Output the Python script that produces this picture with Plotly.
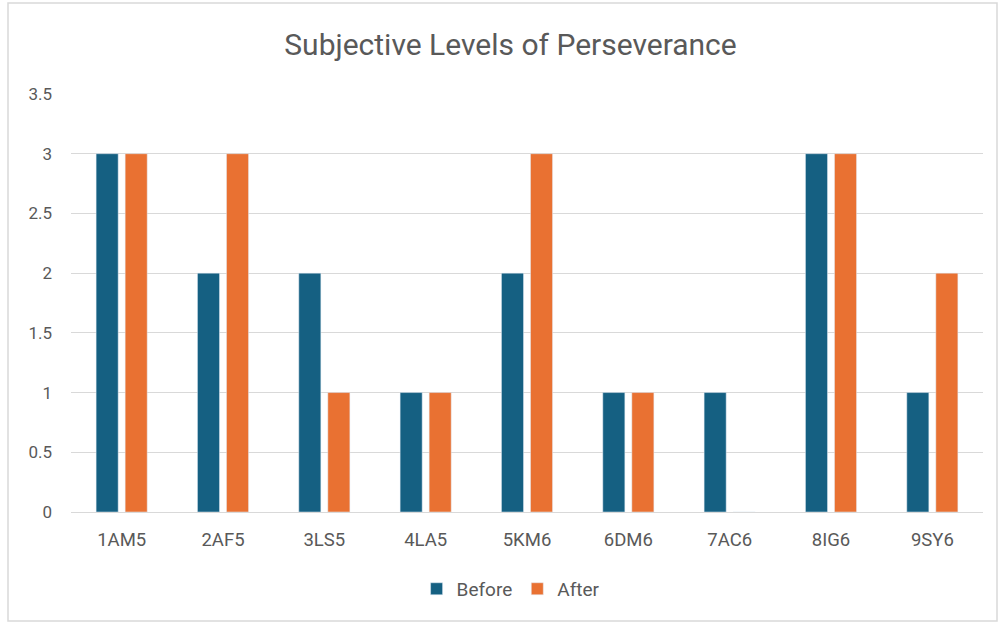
import plotly.graph_objects as go

# Participant codes and perseverance ratings
participants = ["1AM5", "2AF5", "3LS5", "4LA5", "5KM6", "6DM6", "7AC6", "8IG6", "9SY6"]
before = [3, 2, 2, 1, 2, 1, 1, 3, 1]
after = [3, 3, 1, 1, 3, 1, 0, 3, 2]
y_ticks = [0, 0.5, 1, 1.5, 2, 2.5, 3, 3.5]

BLUE = "#156082"
ORANGE = "#E97132"
TEXT = "#595959"
GRID = "#D9D9D9"
FONT = "Roboto, Arial, sans-serif"

fig = go.Figure()
fig.add_trace(go.Bar(name="Before", x=participants, y=before, marker_color=BLUE))
fig.add_trace(go.Bar(name="After", x=participants, y=after, marker_color=ORANGE))

fig.update_layout(
    width=1001,
    height=625,
    margin=dict(l=71, r=18, t=94, b=113),
    paper_bgcolor="white",
    plot_bgcolor="white",
    barmode="group",
    bargap=0.427,
    bargroupgap=0.24,
    font=dict(family=FONT, color=TEXT, size=16),
    title=dict(
        text="Subjective Levels of Perseverance",
        x=0.51, xanchor="center",
        y=1 - 44 / 625, yanchor="middle",
        font=dict(size=30, color=TEXT, family=FONT),
    ),
    legend=dict(
        orientation="h",
        x=0.482, xanchor="center",
        y=-0.184, yanchor="middle",
        font=dict(size=19, color=TEXT),
        itemwidth=30,
        traceorder="normal",
    ),
    xaxis=dict(
        showgrid=False,
        showline=True,
        linecolor=GRID,
        linewidth=1,
        ticks="",
        tickfont=dict(size=18.5, color=TEXT),
        ticklabelstandoff=11,
    ),
    yaxis=dict(
        range=[0, 3.5],
        tickvals=y_ticks,
        ticktext=[f"{v:g}" for v in y_ticks],
        showgrid=True,
        gridcolor=GRID,
        gridwidth=1,
        zeroline=False,
        showline=False,
        ticks="",
        tickfont=dict(size=17, color=TEXT),
        ticklabelstandoff=18,
    ),
    shapes=[
        dict(
            type="rect", xref="paper", yref="paper",
            x0=(8 - 71) / 912, x1=(997 - 71) / 912,
            y0=(512 - 621) / 418, y1=(512 - 3) / 418,
            line=dict(color="#D9D9D9", width=1.5),
            fillcolor="rgba(0,0,0,0)",
            layer="below",
        )
    ],
)

fig.write_html("out.html")
